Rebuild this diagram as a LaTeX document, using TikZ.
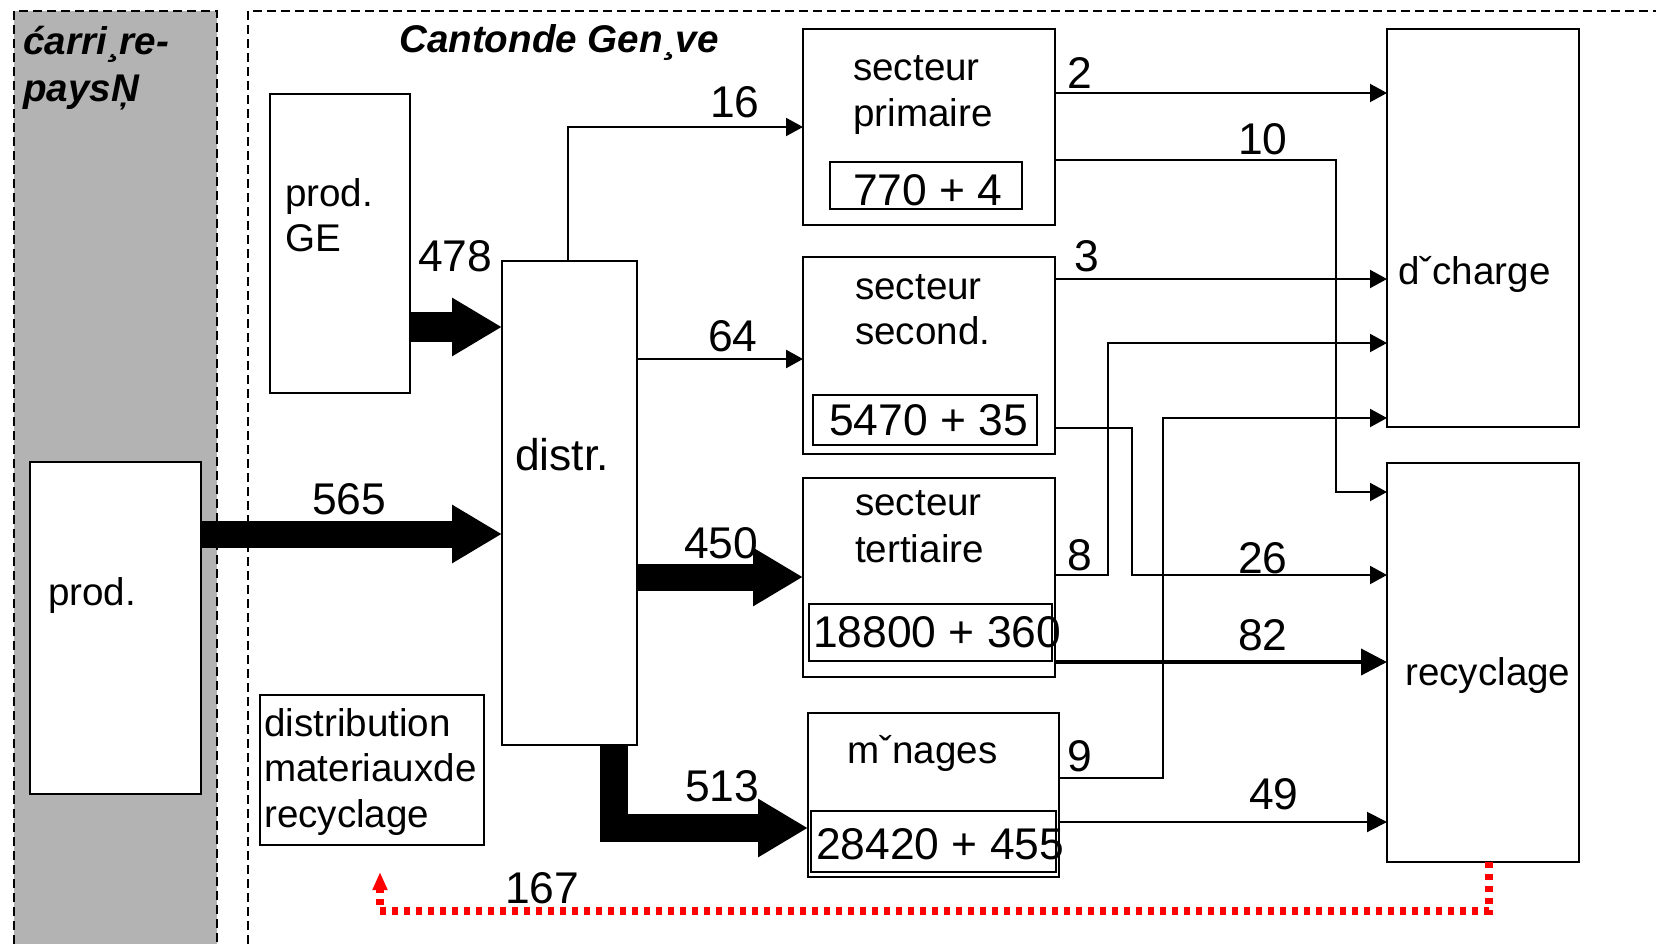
\documentclass[tikz,border=0pt]{standalone}
\usepackage{fontspec}
\setmainfont{Liberation Sans}
\usetikzlibrary{arrows.meta}
\definecolor{panel}{HTML}{B3B3B3}
\definecolor{flowred}{HTML}{FF0000}
\begin{document}
\begin{tikzpicture}[x=1pt,y=-1pt,
  box/.style={draw, line width=2pt, rectangle, inner sep=0pt, outer sep=0pt, anchor=north west},
  inbox/.style={draw, line width=1.6pt, rectangle, inner sep=0pt, outer sep=0pt, anchor=north west},
  word/.style={anchor=base west, inner sep=0pt, font=\fontsize{38.6}{46}\selectfont},
  num/.style={anchor=base west, inner sep=0pt, font=\fontsize{44.4}{52}\selectfont},
  ttl/.style={anchor=base west, inner sep=0pt, font=\fontsize{38.6}{46}\selectfont\bfseries\itshape},
  border/.style={line width=2pt, dash pattern=on 9pt off 5pt},
  thinflow/.style={line width=2pt, -{Triangle[length=17pt,width=18pt]}},
  fatflow/.style={line width=#1, line join=miter, -{Triangle[length=50pt,width=55pt]}},
  ret/.style={line width=8pt, flowred, dash pattern=on 6pt off 6pt, -{Triangle[length=18pt,width=14pt]}}
]
\useasboundingbox (0,0) rectangle (1656,944);
\fill[white] (0,0) rectangle (1656,944);
% regions
\fill[panel] (14,11) rectangle (217,944);
\draw[border] (14,944) -- (14,11) -- (217,11) -- (217,944);
\draw[border] (248,944) -- (248,11) -- (1656,11);
\node[ttl] (t1a) at (23,55) {ćarri¸re-};
\node[ttl] (t1b) at (23,102) {paysŅ};
\node[ttl] (t2) at (399,53) {Cantonde Gen¸ve};

% boxes
\node[box, fill=white, minimum width=171pt, minimum height=332pt] (prod) at (30,462) {};
\node[box, minimum width=140pt, minimum height=299pt] (progE) at (270,94) {};
\node[box, minimum width=135pt, minimum height=484pt] (distr) at (502,261) {};
\node[box, minimum width=224pt, minimum height=150pt] (distrib) at (260,695) {};
\node[box, minimum width=252pt, minimum height=196pt] (sp) at (803,29) {};
\node[box, minimum width=252pt, minimum height=197pt] (ss) at (803,257) {};
\node[box, minimum width=252pt, minimum height=199pt] (st) at (803,478) {};
\node[box, minimum width=251pt, minimum height=164pt] (men) at (808,713) {};
\node[box, minimum width=192pt, minimum height=398pt] (dech) at (1387,29) {};
\node[box, minimum width=192pt, minimum height=399pt] (rec) at (1387,463) {};
\node[inbox, minimum width=192pt, minimum height=47pt] (spi) at (830,162) {};
\node[inbox, minimum width=224pt, minimum height=50pt] (ssi) at (813,395) {};
\node[inbox, minimum width=243pt, minimum height=57pt] (sti) at (809,604) {};
\node[inbox, minimum width=245pt, minimum height=61pt] (meni) at (811,811) {};

% box texts
\node[word] (w1) at (48,605) {prod.};
\node[word] (w2) at (285,206) {prod.};
\node[word] (w3) at (285,251) {GE};
\node[word, font=\fontsize{44.4}{52}\selectfont] (w4) at (515,470) {distr.};
\node[word] (w5) at (264,736) {distribution};
\node[word] (w6) at (264,781) {materiauxde};
\node[word] (w7) at (264,827) {recyclage};
\node[word] (w8) at (853,81) {secteur};
\node[word] (w9) at (853,127) {primaire};
\node[word] (w10) at (855,299) {secteur};
\node[word] (w11) at (855,344) {second.};
\node[word] (w12) at (855,515) {secteur};
\node[word] (w13) at (855,562) {tertiaire};
\node[word] (w14) at (847,763) {mˇnages};
\node[word] (w15) at (1398,284) {dˇcharge};
\node[word] (w16) at (1405,685) {recyclage};
\node[num] (n1) at (853,205) {770 + 4};
\node[num] (n2) at (829,435) {5470 + 35};
\node[num] (n3) at (813,647) {18800 + 360};
\node[num] (n4) at (816,859) {28420 + 455};

% flows into distribution
\draw[fatflow=30pt] (progE.east |- 0,327) -- (distr.west |- 0,327);
\draw[fatflow=27pt] (prod.east |- 0,534) -- (distr.west |- 0,534);
\draw[thinflow] (568,0 |- distr.north) |- (sp.west);
\draw[thinflow, line width=2.5pt] (distr.east |- 0,359) -- (ss.west |- 0,359);
\draw[fatflow=27pt] (distr.east |- 0,577) -- (st.west |- 0,577);
\draw[fatflow=28pt] (614,0 |- distr.south) |- (men.west |- 0,828);
\node[num] (l478) at (418,271) {478};
\node[num] (l565) at (312,514) {565};
\node[num] (l16) at (710,118) {16};
\node[num] (l64) at (708,351) {64};
\node[num] (l450) at (684,558) {450};
\node[num] (l513) at (685,801) {513};

% flows out of sectors
\draw[thinflow] (sp.east |- 0,93) -- (dech.west |- 0,93);
\draw[thinflow] (sp.east |- 0,160) -| (1336,492) -- (rec.west |- 0,492);
\draw[thinflow] (ss.east |- 0,279) -- (dech.west |- 0,279);
\draw[thinflow] (st.east |- 0,575) -| (1108,343) -- (dech.west |- 0,343);
\draw[thinflow] (ss.east |- 0,428) -| (1132,575) -- (rec.west |- 0,575);
\draw[thinflow] (men.east |- 0,778) -| (1163,418) -- (dech.west |- 0,418);
\draw[line width=4pt, -{Triangle[length=26pt,width=26pt]}] (st.east |- 0,662) -- (rec.west |- 0,662);
\draw[line width=2pt, -{Triangle[length=20pt,width=20pt]}] (men.east |- 0,822) -- (rec.west |- 0,822);
\node[num] (l2) at (1067,89) {2};
\node[num] (l10) at (1238,155) {10};
\node[num] (l3) at (1074,271) {3};
\node[num] (l8) at (1067,570) {8};
\node[num] (l26) at (1238,573) {26};
\node[num] (l82) at (1238,650) {82};
\node[num] (l9) at (1067,771) {9};
\node[num] (l49) at (1249,809) {49};

% return flow
\coordinate (back) at (380,872);
\draw[ret] (1489,0 |- rec.south) |- (380,911) -- (back);
\node[num] (l167) at (505,903) {167};
\end{tikzpicture}
\end{document}
